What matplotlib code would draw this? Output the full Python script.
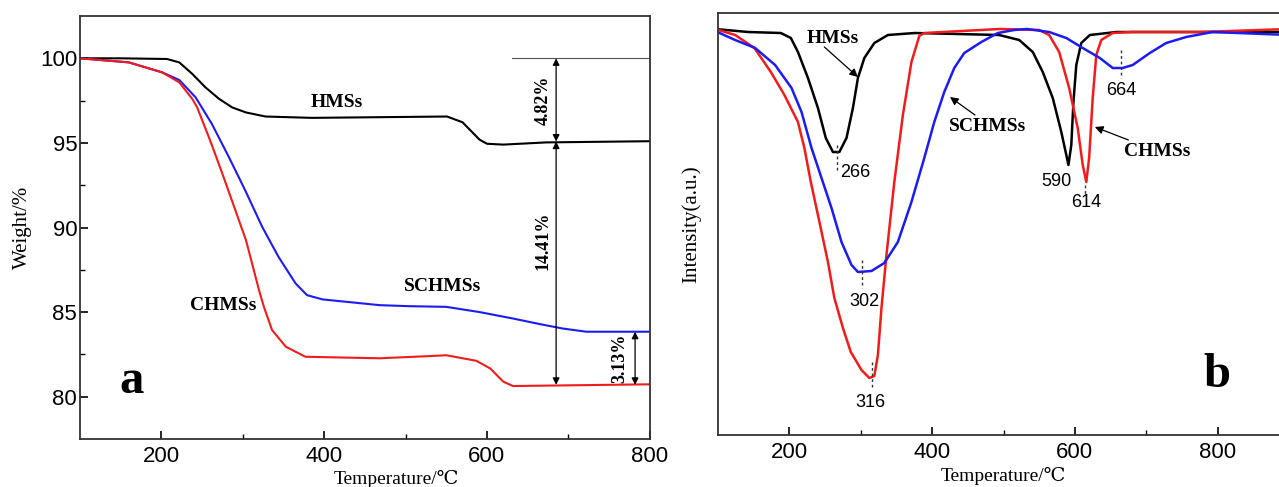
import numpy as np
import matplotlib
matplotlib.use("Agg")
from matplotlib import pyplot as plt

# ---- panel a : TG curves (weight %) ----
t_hms = [100, 150, 207, 222, 238, 254, 271, 287, 304, 328, 385, 467, 551, 570, 582, 591, 600, 620, 673, 799]
w_hms = [100, 100, 99.96, 99.76, 99.08, 98.29, 97.6, 97.1, 96.8, 96.56, 96.48, 96.52, 96.56, 96.22, 95.63,
         95.19, 94.95, 94.9, 95.03, 95.1]

t_chms = [100, 160, 201, 222, 238, 244, 260, 275, 304, 320, 326, 336, 353, 377, 468, 530, 550, 587, 604, 620,
          632, 799]
w_chms = [100, 99.76, 99.17, 98.58, 97.6, 97.1, 95.14, 93.18, 89.25, 86.3, 85.31, 83.94, 82.95, 82.36, 82.27,
          82.4, 82.45, 82.12, 81.67, 80.89, 80.63, 80.73]

t_schms = [100, 160, 201, 222, 242, 262, 283, 303, 324, 344, 365, 379, 398, 468, 504, 550, 591, 632, 665, 693,
           722, 799]
w_schms = [100, 99.76, 99.17, 98.72, 97.7, 96.13, 94.16, 92.2, 90.03, 88.26, 86.69, 86.0, 85.75, 85.41, 85.35,
           85.31, 85.0, 84.62, 84.29, 84.03, 83.84, 83.84]

# ---- panel b : DTG curves (a.u.) ----
d_t_hms = [96, 142, 188, 202, 212, 226, 240, 251, 261, 270, 280, 289, 296, 305, 319, 338, 376, 494, 522, 541,
           555, 569, 581, 588, 591, 595, 598, 602, 609, 621, 658, 900]
d_i_hms = [0.03, 0.0, -0.01, -0.06, -0.2, -0.46, -0.76, -1.06, -1.2, -1.2, -1.06, -0.76, -0.46, -0.26, -0.11,
           -0.03, -0.01, -0.03, -0.08, -0.2, -0.4, -0.66, -1.0, -1.23, -1.33, -1.13, -0.7, -0.33, -0.11, -0.03,
           0.0, 0.0]

d_t_chms = [96, 124, 151, 174, 193, 212, 221, 230, 240, 254, 263, 275, 286, 301, 312, 319, 324, 329, 336, 347,
            359, 371, 382, 389, 494, 550, 564, 578, 592, 604, 611, 616, 620, 625, 630, 637, 653, 681, 775, 859,
            900]
d_i_chms = [0.03, -0.03, -0.16, -0.4, -0.63, -0.9, -1.16, -1.5, -1.83, -2.3, -2.66, -2.96, -3.2, -3.38, -3.46,
            -3.44, -3.23, -2.76, -2.23, -1.5, -0.83, -0.3, -0.04, -0.01, 0.03, 0.02, -0.03, -0.2, -0.56, -0.96,
            -1.33, -1.5, -1.26, -0.66, -0.23, -0.08, -0.01, 0.0, 0.0, 0.02, 0.03]

d_t_schms = [96, 124, 152, 180, 203, 217, 231, 245, 259, 273, 287, 296, 315, 333, 352, 371, 389, 403, 417, 431,
             445, 469, 492, 515, 533, 564, 588, 611, 635, 653, 667, 681, 705, 728, 756, 793, 900]
d_i_schms = [0.01, -0.08, -0.16, -0.33, -0.56, -0.8, -1.16, -1.46, -1.76, -2.1, -2.33, -2.4, -2.39, -2.31, -2.1,
             -1.7, -1.26, -0.9, -0.6, -0.36, -0.21, -0.1, -0.01, 0.02, 0.03, 0.0, -0.06, -0.16, -0.26, -0.36,
             -0.36, -0.33, -0.21, -0.11, -0.05, 0.0, -0.03]

peak_t = [266, 302, 316, 590, 614, 664]

serif = ['Liberation Serif', 'DejaVu Serif']
sans = ['Liberation Sans', 'DejaVu Sans']
red = '#f01c1c'
blue = '#1c1cf0'

fig = plt.figure(figsize=(12.79, 4.87), dpi=100)
ax1 = fig.add_axes([0.0625, 0.0986, 0.4455, 0.8685])
ax2 = fig.add_axes([0.5614, 0.1068, 0.4464, 0.8665])

for ax in (ax1, ax2):
    for s in ax.spines.values():
        s.set_linewidth(1.3)
        s.set_color('#333333')
    ax.tick_params(which='major', direction='in', length=6, width=1.2, labelsize=16, pad=5)
    ax.tick_params(which='minor', direction='in', length=3.5, width=1.0)

# ---------------- panel a ----------------
ax1.plot(t_hms, w_hms, color='black', lw=1.5)
ax1.plot(t_schms, w_schms, color=blue, lw=1.5)
ax1.plot(t_chms, w_chms, color=red, lw=1.5)
ax1.set_xlim(100, 800)
ax1.set_ylim(77.5, 102.5)
ax1.set_xticks([200, 400, 600, 800])
ax1.set_xticks([300, 500, 700], minor=True)
ax1.set_yticks([80, 85, 90, 95, 100])
ax1.set_yticks([82.5, 87.5, 92.5, 97.5], minor=True)
ax1.tick_params(axis='y', pad=2)
for lab in ax1.get_xticklabels() + ax1.get_yticklabels():
    lab.set_family(sans)
ax1.set_ylabel('Weight/%', family=serif, fontsize=15, labelpad=6)
ax1.text(0.556, -0.095, 'Temperature/\u2103', transform=ax1.transAxes, family=serif,
         fontsize=14, ha='center', va='center')

ax1.text(416, 97.4, 'HMSs', family=serif, fontsize=14, weight='bold', ha='center', va='center')
ax1.text(545, 86.5, 'SCHMSs', family=serif, fontsize=14, weight='bold', ha='center', va='center')
ax1.text(276, 85.4, 'CHMSs', family=serif, fontsize=14, weight='bold', ha='center', va='center')
ax1.text(164, 80.9, 'a', family=serif, fontsize=35, weight='bold', ha='center', va='center')

ax1.plot([631, 800], [100, 100], color='#555555', lw=0.8)
arr = dict(arrowstyle='<|-|>', color='black', lw=0.9, mutation_scale=10, shrinkA=0, shrinkB=0)
ax1.annotate('', xy=(685, 100), xytext=(685, 95.08), arrowprops=arr)
ax1.annotate('', xy=(685, 95.08), xytext=(685, 80.7), arrowprops=arr)
ax1.annotate('', xy=(782, 83.84), xytext=(782, 80.7), arrowprops=arr)
ax1.text(669, 97.5, '4.82%', family=serif, fontsize=13, weight='bold', rotation=90, ha='center', va='center')
ax1.text(669, 89.2, '14.41%', family=serif, fontsize=13, weight='bold', rotation=90, ha='center', va='center')
ax1.text(763, 82.3, '3.13%', family=serif, fontsize=13, weight='bold', rotation=90, ha='center', va='center')

# ---------------- panel b ----------------
ax2.plot(d_t_hms, d_i_hms, color='black', lw=1.8)
ax2.plot(d_t_chms, d_i_chms, color=red, lw=1.8)
ax2.plot(d_t_schms, d_i_schms, color=blue, lw=1.8)
ax2.set_xlim(100, 900)
ax2.set_ylim(-4.03, 0.19)
ax2.set_xticks([200, 400, 600, 800])
ax2.set_xticks([300, 500, 700], minor=True)
ax2.set_yticks([])
for lab in ax2.get_xticklabels():
    lab.set_family(sans)
ax2.set_ylabel('Intensity(a.u.)', family=serif, fontsize=15, labelpad=12)
ax2.text(0.5, -0.097, 'Temperature/\u2103', transform=ax2.transAxes, family=serif,
         fontsize=14, ha='center', va='center')

# peak markers (dashed) and labels
dash_ranges = [(-1.13, -1.38), (-2.28, -2.56), (-3.30, -3.56), None, (-1.53, -1.62), (-0.18, -0.46)]
label_pos = [(292, -1.41), (305, -2.70), (313, -3.71), (574, -1.50), (616, -1.71), (665, -0.58)]
for tp, dr, lp in zip(peak_t, dash_ranges, label_pos):
    if dr is not None:
        ax2.plot([tp, tp], dr, color='#333333', lw=1.0, ls=(0, (2, 2)))
    ax2.text(lp[0], lp[1], str(tp), family=sans, fontsize=13, ha='center', va='center')

arrow_b = dict(arrowstyle='-|>', color='black', lw=0.9, mutation_scale=12, shrinkA=0, shrinkB=0)
ax2.text(261, -0.06, 'HMSs', family=serif, fontsize=14, weight='bold', ha='center', va='center')
ax2.annotate('', xy=(296, -0.45), xytext=(249, -0.15), arrowprops=arrow_b)
ax2.text(477, -0.95, 'SCHMSs', family=serif, fontsize=14, weight='bold', ha='center', va='center')
ax2.annotate('', xy=(425, -0.65), xytext=(460, -0.83), arrowprops=arrow_b)
ax2.text(716, -1.2, 'CHMSs', family=serif, fontsize=14, weight='bold', ha='center', va='center')
ax2.annotate('', xy=(628, -0.95), xytext=(675, -1.08), arrowprops=arrow_b)
ax2.text(799, -3.43, 'b', family=serif, fontsize=35, weight='bold', ha='center', va='center')

fig.savefig('out.png', dpi=100)
